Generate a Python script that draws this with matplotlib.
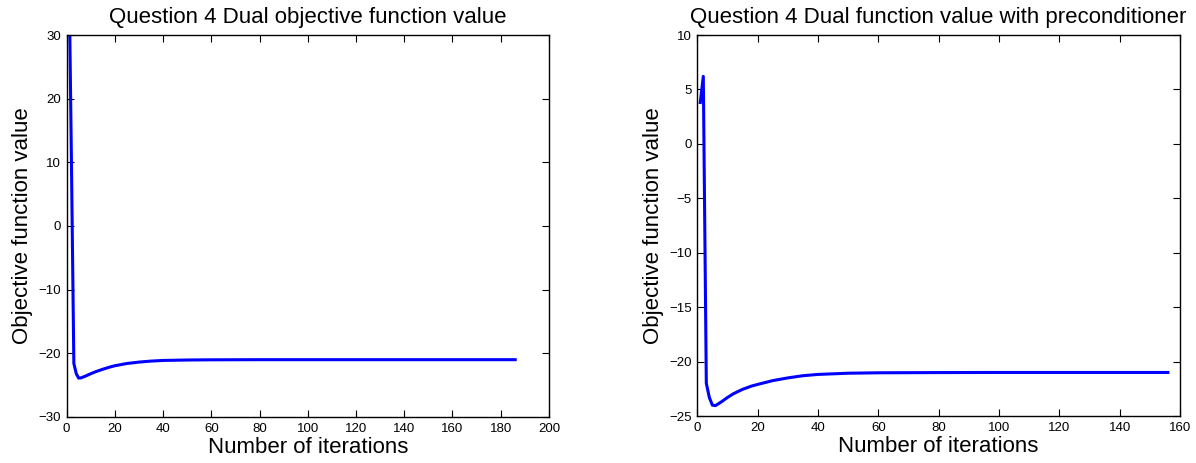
import numpy as np
import matplotlib
matplotlib.use('Agg')
import matplotlib.pyplot as plt

plt.rcParams['font.family'] = ['Liberation Sans', 'DejaVu Sans']

# left: dual objective, plain gradient
iters_plain = [1, 2, 3, 4, 5, 6, 8, 10, 12, 15, 18, 20, 25, 30, 35, 40, 50, 60, 80, 100, 186]
vals_plain = [40, 10, -21.6, -23.2, -23.9, -23.85, -23.55, -23.2, -22.9, -22.5, -22.15, -21.95,
              -21.6, -21.38, -21.22, -21.12, -21.05, -21.02, -21.0, -21.0, -21.0]

# right: with preconditioner
iters_pre = [1, 2, 3, 4, 5, 6, 8, 10, 12, 15, 18, 20, 25, 30, 35, 40, 50, 60, 80, 100, 156]
vals_pre = [3.8, 6.2, -22, -23.3, -24, -24.05, -23.7, -23.3, -22.95, -22.55, -22.25, -22.1,
            -21.75, -21.5, -21.3, -21.18, -21.07, -21.03, -21.01, -21.0, -21.0]

fig = plt.figure(figsize=(11.96, 4.63), dpi=100)
ax1 = fig.add_axes([0.0557, 0.0994, 0.4033, 0.8250])
ax2 = fig.add_axes([0.5830, 0.1015, 0.4036, 0.8229])

def style(ax):
    ax.tick_params(direction='in', top=True, right=True, labelsize=9.5, length=5, pad=4)
    for s in ax.spines.values():
        s.set_linewidth(1.0)

ax1.plot(iters_plain, vals_plain, color='blue', lw=2.2)
ax1.set_xlim(0, 200)
ax1.set_ylim(-30, 30)
ax1.set_xticks(np.arange(0, 201, 20))
ax1.set_yticks(np.arange(-30, 31, 10))
ax1.set_title('Question 4 Dual objective function value', fontsize=16, pad=9)
ax1.set_xlabel('Number of iterations', fontsize=16, labelpad=2)
ax1.set_ylabel('Objective function value', fontsize=16, labelpad=4)
style(ax1)

ax2.plot(iters_pre, vals_pre, color='blue', lw=2.2)
ax2.set_xlim(0, 160)
ax2.set_ylim(-25, 10)
ax2.set_xticks(np.arange(0, 161, 20))
ax2.set_yticks(np.arange(-25, 11, 5))
ax2.set_title('Question 4 Dual function value with preconditioner', fontsize=16, pad=9)
ax2.set_xlabel('Number of iterations', fontsize=16, labelpad=2)
ax2.set_ylabel('Objective function value', fontsize=16, labelpad=4)
style(ax2)

fig.savefig('out.png', dpi=100)
